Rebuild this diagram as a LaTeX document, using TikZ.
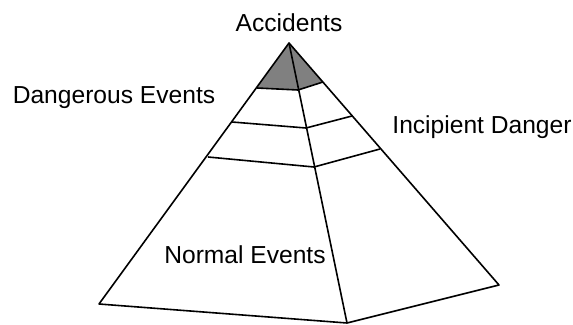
\documentclass[tikz,border=0pt]{standalone}
\usepackage{fontspec}
\setmainfont{Liberation Sans}
\begin{document}
\begin{tikzpicture}[x=1pt,y=-1pt,
  edge/.style={draw=black,line width=1.6pt,line join=round},
  lbl/.style={font=\fontsize{24.6}{29}\selectfont,inner sep=0pt}]
\useasboundingbox (0,0) rectangle (573,324);
\coordinate (A) at (289,43);
\coordinate (L) at (99,304);
\coordinate (F) at (347,323);
\coordinate (R) at (499,285);
\coordinate (t1) at (257,88);
\coordinate (t2) at (298,90);
\coordinate (t3) at (323,82);
\coordinate (m1) at (232,122);
\coordinate (m2) at (306,128);
\coordinate (m3) at (352,116);
\coordinate (b1) at (208,157);
\coordinate (b2) at (314,167);
\coordinate (b3) at (380,149);
\fill[gray] (A) -- (t1) -- (t2) -- (t3) -- cycle;
\draw[edge] (A) -- (L) -- (F) -- (R) -- cycle;
\draw[edge] (A) -- (F);
\draw[edge] (t1) -- (t2) -- (t3);
\draw[edge] (m1) -- (m2) -- (m3);
\draw[edge] (b1) -- (b2) -- (b3);
\node[lbl] (acc) at (289,23) {Accidents};
\node[lbl] (dan) at (114,98) {Dangerous Events};
\node[lbl] (inc) at (482,127) {Incipient Danger};
\node[lbl] (nor) at (245,255) {Normal Events};
\end{tikzpicture}
\end{document}
